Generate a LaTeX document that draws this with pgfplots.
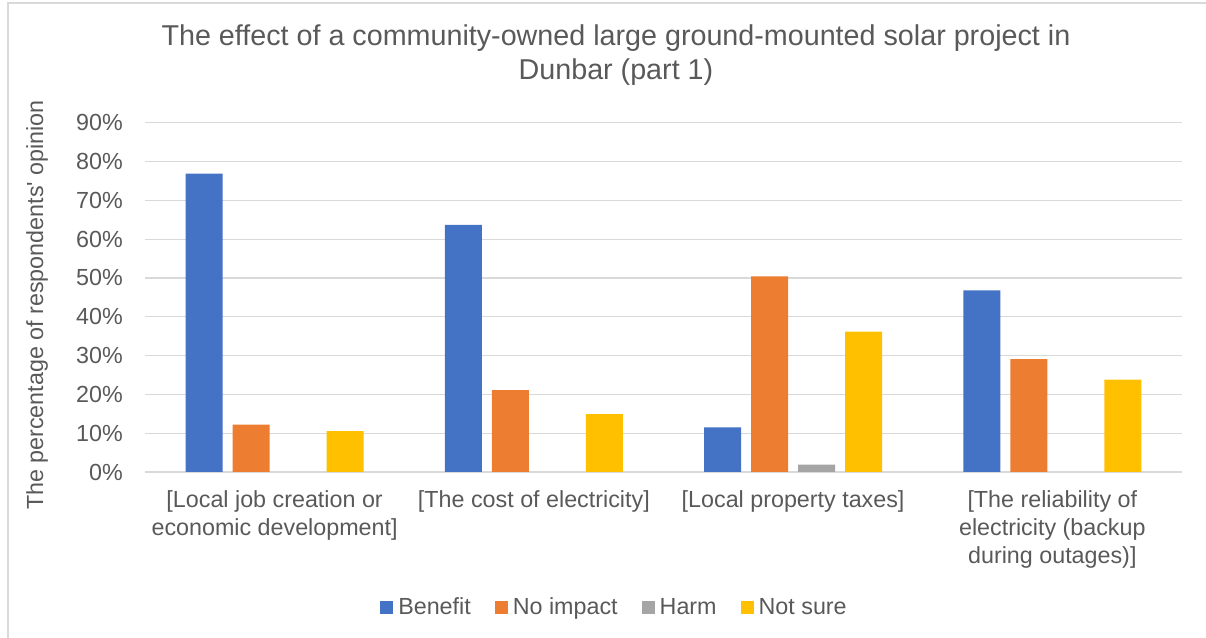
\documentclass[border=0pt]{standalone}
\usepackage{fontspec}
\setmainfont{Liberation Sans}
\usepackage{pgfplots}
\pgfplotsset{compat=1.18}
\definecolor{cBen}{HTML}{4472C4}
\definecolor{cNo}{HTML}{ED7D31}
\definecolor{cHarm}{HTML}{A5A5A5}
\definecolor{cNot}{HTML}{FFC000}
\definecolor{txt}{HTML}{595959}
\definecolor{grd}{HTML}{D9D9D9}
\begin{document}
\begin{tikzpicture}
\path[use as bounding box] (0,0) rectangle (1206bp,638bp);
\draw[grd, line width=1.5bp] (8bp,0) -- (8bp,635bp) -- (1206bp,635bp);
\begin{axis}[
  at={(145bp,166bp)}, anchor=south west,
  scale only axis, width=1037bp, height=349.3bp,
  xmin=-0.5, xmax=3.5, ymin=0, ymax=90,
  enlargelimits=false,
  ybar=10bp, bar width=37bp,
  xtick={0,1,2,3},
  xticklabels={{{[}Local job creation or\\economic development{]}},{{[}The cost of electricity{]}},{{[}Local property taxes{]}},{{[}The reliability of\\electricity (backup\\during outages){]}}},
  ytick={0,10,...,90},
  /pgf/number format/assume math mode=true,
  yticklabel={\pgfmathprintnumber{\tick}\%},
  ymajorgrids, grid style={grd, line width=1.2bp},
  axis line style={draw=none},
  major tick length=0pt,
  tick style={draw=none},
  ticklabel style={font=\fontsize{23.3bp}{28bp}\selectfont, text=txt},
  xticklabel style={anchor=north, align=center, inner sep=0pt, yshift=-18bp},
  yticklabel style={anchor=east, inner sep=0pt, xshift=-22bp},
  ylabel={The percentage of respondents\textquotesingle\ opinion},
  ylabel style={at={(axis description cs:-0.1041,0.478)}, anchor=center, inner sep=0pt, font=\fontsize{23.3bp}{28bp}\selectfont, text=txt},
  title={The effect of a community-owned large ground-mounted solar project in\\Dunbar (part 1)},
  title style={at={(axis description cs:0.4542,1)}, anchor=north, yshift=92.7bp, inner sep=0pt, align=center, font=\fontsize{28.7bp}{34.4bp}\selectfont, text=txt},
  legend columns=4,
  legend image code/.code={\fill[#1] (0bp,-7bp) rectangle (13bp,6bp);},
  legend style={draw=none, fill=none, at={(axis description cs:0.4518,-0.3865)}, anchor=center,
    font=\fontsize{23.3bp}{28bp}\selectfont, text=txt,
    nodes={inner sep=0pt},
    /tikz/every odd column/.append style={column sep=5bp},
    /tikz/every even column/.append style={column sep=24bp}},
]
\addplot[fill=cBen, draw=none] coordinates {(0,76.9) (1,63.7) (2,11.5) (3,46.8)};
\addplot[fill=cNo, draw=none] coordinates {(0,12.2) (1,21.1) (2,50.4) (3,29.1)};
\addplot[fill=cHarm, draw=none] coordinates {(0,0) (1,0) (2,1.9) (3,0)};
\addplot[fill=cNot, draw=none] coordinates {(0,10.5) (1,14.9) (2,36.2) (3,23.8)};
\legend{Benefit,No impact,Harm,Not sure}
\end{axis}
\end{tikzpicture}
\end{document}
